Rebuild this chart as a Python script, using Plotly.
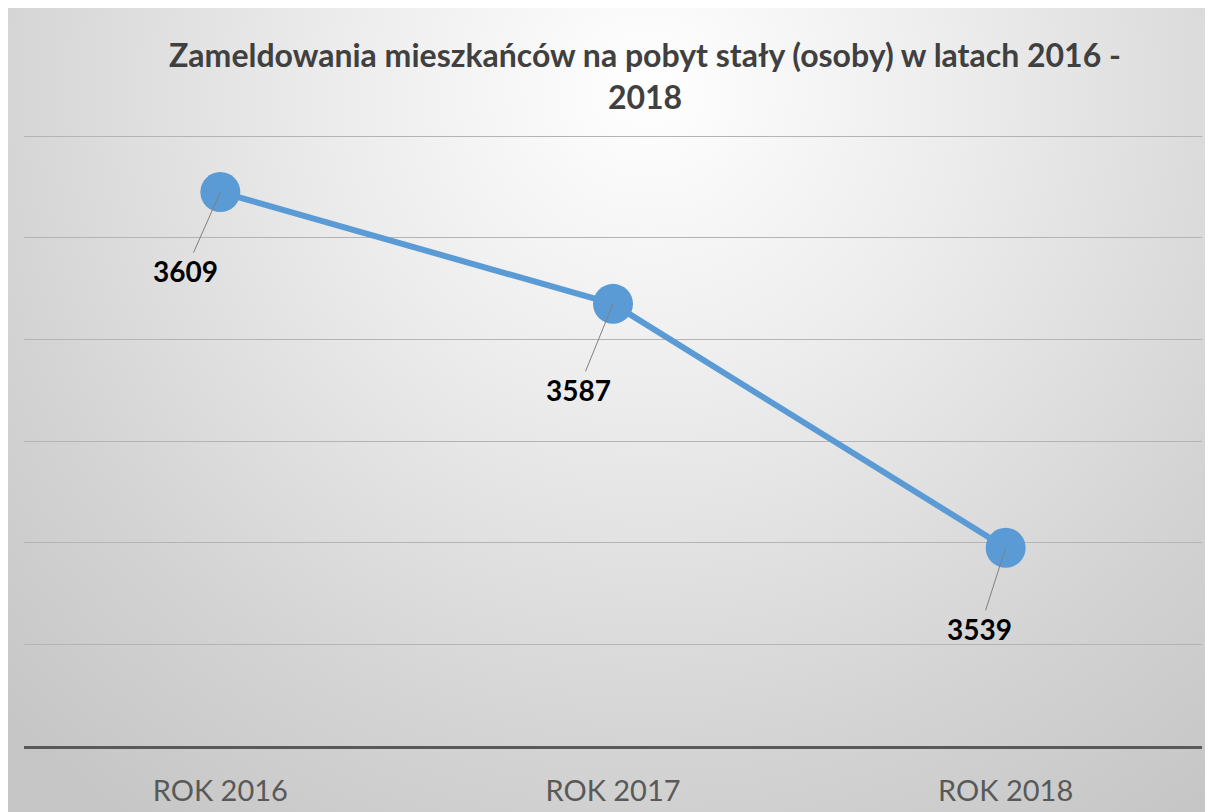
import base64
import plotly.graph_objects as go

categories = ["ROK 2016", "ROK 2017", "ROK 2018"]
values = [3609, 3587, 3539]
label_offsets = [(-35, 79), (-35, 86), (-26, 81)]
title_text = "Zameldowania mieszkańców na pobyt stały (osoby) w latach 2016 -<br>2018"

W, H = 1213, 812
L, R, T, B = 16, 19, 118, 74
pw, ph = W - L - R, H - T - B

svg = f'''<svg xmlns="http://www.w3.org/2000/svg" width="{W}" height="{H}" viewBox="0 0 {W} {H}" preserveAspectRatio="none">
<defs><radialGradient id="g" cx="640" cy="80" r="900" gradientUnits="userSpaceOnUse">
<stop offset="0" stop-color="#ffffff"/><stop offset="0.35" stop-color="#ececec"/>
<stop offset="0.75" stop-color="#d3d3d3"/><stop offset="1" stop-color="#c6c6c6"/></radialGradient></defs>
<rect x="0" y="0" width="{W}" height="{H}" fill="url(#g)"/></svg>'''
src = "data:image/svg+xml;base64," + base64.b64encode(svg.encode()).decode()

fig = go.Figure()
fig.add_trace(go.Scatter(
    x=categories, y=values, mode="lines+markers",
    line=dict(color="#5b9bd5", width=6),
    marker=dict(size=40, color="#5b9bd5"),
    hoverinfo="skip", showlegend=False,
))

for c, v, (ax, ay) in zip(categories, values, label_offsets):
    fig.add_annotation(
        x=c, y=v, text=f"<b>{v}</b>", showarrow=True, arrowhead=0,
        arrowwidth=1, arrowcolor="#808080", ax=ax, ay=ay,
        font=dict(family="Lato", size=28, color="#000000"),
    )

fig.add_layout_image(dict(
    source=src, xref="paper", yref="paper",
    x=-L / pw, y=(H - B) / ph,
    sizex=W / pw, sizey=H / ph,
    xanchor="left", yanchor="top", sizing="stretch", layer="below",
))

fig.update_layout(
    width=W, height=H,
    margin=dict(l=L, r=R, t=T, b=B),
    paper_bgcolor="#ffffff", plot_bgcolor="rgba(0,0,0,0)",
    title=dict(text=title_text, xref="container", yref="container",
               x=637 / W, xanchor="center", y=1 - 59 / H, yanchor="top",
               font=dict(family="Lato", size=32, color="#404040", weight="bold")),
    xaxis=dict(range=[-0.5, 2.5], showgrid=False, showline=True,
               linecolor="#595959", linewidth=2.5, ticks="outside",
               ticklen=17, tickcolor="rgba(0,0,0,0)",
               tickfont=dict(family="Lato", size=29, color="#595959"), zeroline=False),
    yaxis=dict(range=[3500, 3622], dtick=20, tick0=3500, showticklabels=False,
               showgrid=True, gridcolor="#b4b4b4", gridwidth=1, zeroline=False,
               showline=False),
)

fig.write_html("out.html")
